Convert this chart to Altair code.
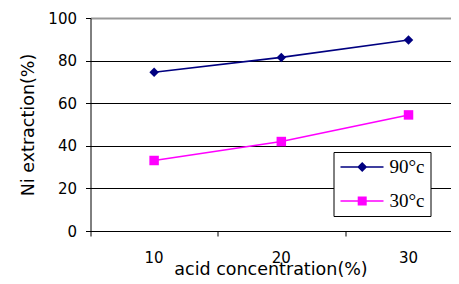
import altair as alt
import pandas as pd

concentration = [10, 20, 30]
ni_90c = [74.5, 81.5, 89.7]
ni_30c = [33.1, 42.0, 54.5]
series_names = ["90°c", "30°c"]
series_colors = ["#000080", "#FF00FF"]
marker_shapes = ["diamond", "square"]
y_ticks = [0, 20, 40, 60, 80, 100]
x_tick_labels = ["10", "20", "30"]

# legend symbols: line segment with marker
legend_paths = [
    "M-0.8,-0.08H3.5V0.08H-0.8Z M1.37,-0.5L1.87,0L1.37,0.5L0.87,0Z",
    "M-0.8,-0.08H3.5V0.08H-0.8Z M0.92,-0.45H1.82V0.45H0.92Z",
]

rows = []
for name, vals in zip(series_names, [ni_90c, ni_30c]):
    for c, v in zip(concentration, vals):
        rows.append({"conc": c, "ni": v, "series": name})
df = pd.DataFrame(rows)
label_df = pd.DataFrame({"conc": concentration, "label": x_tick_labels})

AX_FONT = "DejaVu Sans"

x_enc = alt.X(
    "conc:Q",
    scale=alt.Scale(domain=[5, 33.3], nice=False, zero=False),
    axis=alt.Axis(
        values=concentration,
        tickOffset=-63.5,
        labels=False,
        grid=False,
        domainColor="black",
        tickColor="black",
        tickSize=5,
        titleFont=AX_FONT,
        titleFontSize=17.5,
        titleFontWeight="normal",
        titleColor="black",
        titlePadding=24,
    ),
    title="acid concentration(%)",
)

y_enc = alt.Y(
    "ni:Q",
    scale=alt.Scale(domain=[0, 100], nice=False),
    axis=alt.Axis(
        values=y_ticks,
        grid=True,
        gridColor={"condition": {"test": "datum.value === 100", "value": "#999999"}, "value": "black"},
        gridWidth={"condition": {"test": "datum.value === 100", "value": 2}, "value": 1},
        domainColor="black",
        tickColor="black",
        tickSize=5,
        labelPadding=9,
        labelFont=AX_FONT,
        labelFontSize=15,
        labelColor="black",
        titleFont=AX_FONT,
        titleFontSize=17.5,
        titleFontWeight="normal",
        titleColor="black",
        titlePadding=10,
    ),
    title="Ni extraction(%)",
)

base = alt.Chart(df)

lines = base.mark_line(strokeWidth=1.6).encode(
    x=x_enc,
    y=y_enc,
    stroke=alt.Stroke("series:N", scale=alt.Scale(domain=series_names, range=series_colors), legend=None),
)

points = base.mark_point(filled=True, opacity=1, size=90).encode(
    x=x_enc,
    y=y_enc,
    fill=alt.Fill("series:N", scale=alt.Scale(domain=series_names, range=series_colors), legend=None),
    shape=alt.Shape("series:N", scale=alt.Scale(domain=series_names, range=marker_shapes), legend=None),
)

# category labels under the x axis, placed through the x and y scales
x_labels = alt.Chart(label_df).mark_text(
    baseline="top", align="center", font=AX_FONT, fontSize=15, color="black"
).encode(
    x=x_enc,
    y=alt.YDatum(-9.4),
    text=alt.Text("label:N"),
)

leg = alt.Legend(
    title=None,
    orient="none",
    legendX=243,
    legendY=134,
    strokeColor="black",
    fillColor="white",
    padding=5,
    rowPadding=14,
    symbolSize=400,
    symbolOpacity=1,
    symbolStrokeWidth=0,
    labelFont="Liberation Serif",
    labelFontSize=19,
    labelColor="black",
    labelOffset=31,
    labelExpr="datum.label + '    '",
)

legend_layer = base.mark_point(filled=True, opacity=0, size=400).encode(
    x=x_enc,
    y=y_enc,
    color=alt.Color("series:N", scale=alt.Scale(domain=series_names, range=series_colors), legend=leg),
    shape=alt.Shape("series:N", scale=alt.Scale(domain=series_names, range=legend_paths), legend=leg),
)

chart = (
    alt.layer(lines, points, x_labels, legend_layer)
    .resolve_scale(shape="independent")
    .properties(width=360, height=213, padding={"left": 11.5, "top": 3, "right": 0, "bottom": -1.5})
    .configure_view(stroke=None)
    .configure_legend(symbolBaseFillColor={"expr": "scale('color', datum.value)"})
)

chart.save("out.html", embed_options={"renderer": "svg", "actions": False})
